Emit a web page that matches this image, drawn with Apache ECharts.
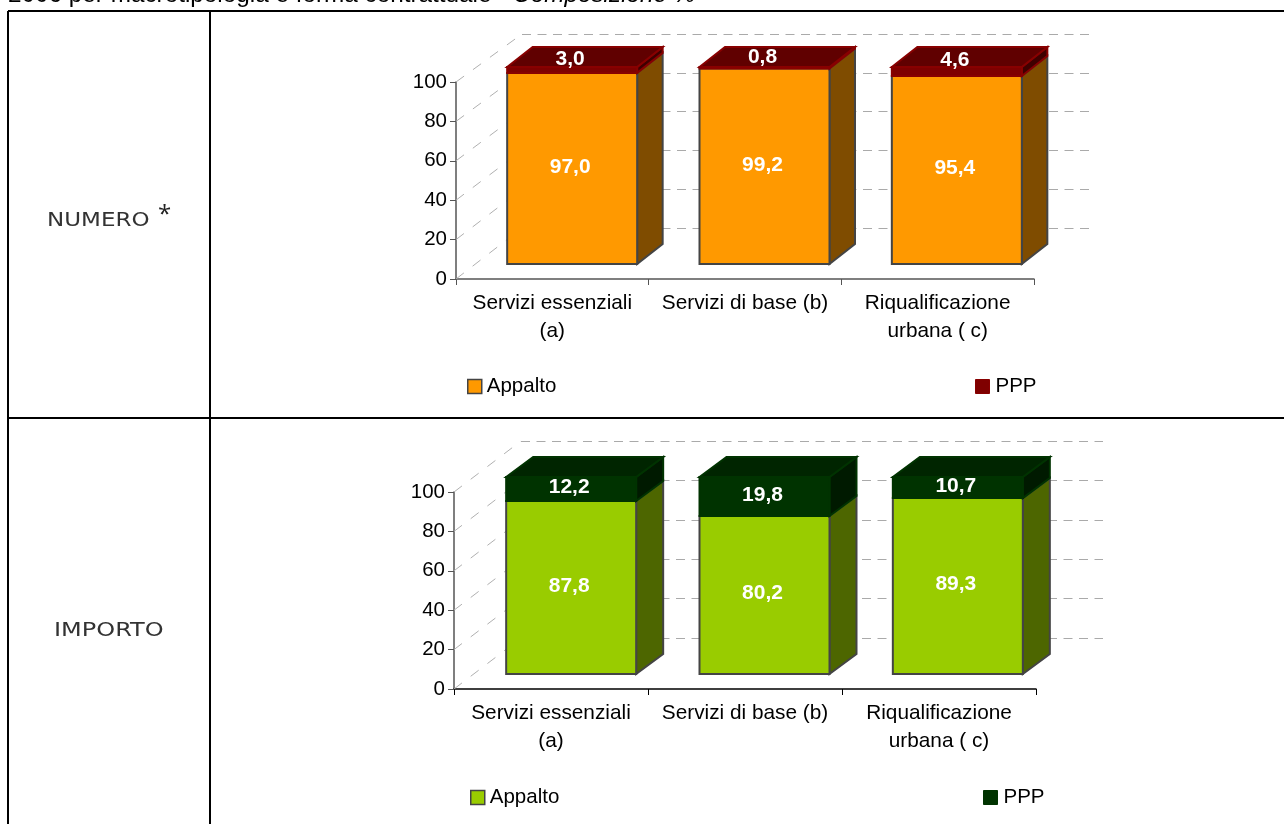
<!DOCTYPE html>
<html><head><meta charset="utf-8">
<style>html,body{margin:0;padding:0;background:#fff}#c{width:1284px;height:824px}</style>
<script src="https://cdn.jsdelivr.net/npm/echarts@6/dist/echarts.min.js"></script>
</head><body><div id="c"></div>
<script>
const categories = ['Servizi essenziali\n(a)', 'Servizi di base (b)', 'Riqualificazione\nurbana ( c)'];
const yTicks = [0, 20, 40, 60, 80, 100];
const seriesNames = ['Appalto', 'PPP'];
const appaltoNumero = [97.0, 99.2, 95.4];
const pppNumero = [3.0, 0.8, 4.6];
const appaltoImporto = [87.8, 80.2, 89.3];
const pppImporto = [12.2, 19.8, 10.7];
const titleText = '2006 per macrotipologia e forma contrattuale - ';
const titleItalic = 'Composizione %';

const FONT = '"Liberation Sans", Arial, sans-serif';
const panels = [
  { a: appaltoNumero, p: pppNumero,
    front: {left:456, top:82, width:578, height:197}, back: {left:522, top:34, width:572, height:194},
    bars: {left:476, top:67, width:577, height:197}, pppLift:-11, axisX:'#555', axisY:'#555', dx:25.5,
    legA:{left:467,top:376}, legP:{left:975,top:376},
    colA:{front:'#FF9900', side:'#7F4C00', stroke:'#444'},
    colP:{front:'#7F0000', side:'#3F0000', top:'#600000', stroke:'#880000', leg:'#7F0000'} },
  { a: appaltoImporto, p: pppImporto,
    front: {left:454, top:492, width:582, height:197}, back: {left:521, top:441, width:582, height:197},
    bars: {left:474.5, top:477, width:580, height:197}, pppLift:-1.5, axisX:'#000', axisY:'#555', dx:27,
    legA:{left:470,top:787}, legP:{left:983,top:787},
    colA:{front:'#99CC00', side:'#4D6600', stroke:'#444'},
    colP:{front:'#003300', side:'#001A00', top:'#002500', stroke:'#003300', leg:'#003300'} }
];
const BAR_W = 130, DY = -20;

function box(b){ return {left:b.left, top:b.top, width:b.width, height:b.height, containLabel:false}; }

const grid=[], xAxis=[], yAxis=[], series=[], legend=[];
panels.forEach(function(P){
  const base = grid.length, DX = P.dx;
  grid.push(box(P.front), box(P.back), box(P.bars));
  xAxis.push({gridIndex:base, type:'category', data:categories, position:'bottom',
    axisLine:{lineStyle:{color:P.axisX,width:1.5}}, axisTick:{show:true,length:6,lineStyle:{color:P.axisX}},
    axisLabel:{color:'#000',fontFamily:FONT,fontSize:20.8,lineHeight:28,margin:10,interval:0}});
  yAxis.push({gridIndex:base, type:'value', min:0, max:100, interval:20,
    axisLine:{show:true,lineStyle:{color:P.axisY,width:1.5}}, axisTick:{show:true,length:6,lineStyle:{color:P.axisY}},
    axisLabel:{color:'#000',fontFamily:FONT,fontSize:20.5,margin:9}, splitLine:{show:false}});
  xAxis.push({gridIndex:base+1, type:'category', data:categories, show:false});
  yAxis.push({gridIndex:base+1, type:'value', min:0, max:100, interval:20,
    axisLine:{show:false}, axisTick:{show:false}, axisLabel:{show:false},
    splitLine:{show:true,lineStyle:{color:'#aaaaaa',type:[9,6.5],width:1}}});
  xAxis.push({gridIndex:base+2, type:'category', data:categories, show:false});
  yAxis.push({gridIndex:base+2, type:'value', min:0, max:100, show:false});

  series.push({type:'custom', name:'wall', silent:true, xAxisIndex:base, yAxisIndex:base, clip:false, z:1,
    data: yTicks.map(function(v){return [0,v];}),
    renderItem:function(params,api){
      const v=api.value(1), y=api.coord([0,v])[1];
      const by=P.back.top+P.back.height*(1-v/100);
      return {type:'line',shape:{x1:P.front.left,y1:y,x2:P.back.left,y2:by},
        style:{stroke:'#b0b0b0',lineWidth:1,lineDash:[10,11]}};
    }});

  function barSeries(name,col,rows,lift){
    return {type:'custom', name:name, silent:true, xAxisIndex:base+2, yAxisIndex:base+2, clip:false, z:3,
      itemStyle:{color:col.front},
      encode:{x:0,y:2},
      data:rows,
      renderItem:function(params,api){
        const c=api.value(0), lo=api.value(1), hi=api.value(2);
        const pb=api.coord([c,lo]), pt=api.coord([c,hi]);
        const x0=pb[0]-BAR_W/2, x1=pb[0]+BAR_W/2, yb=pb[1], yt=pt[1];
        const kids=[];
        const st=col.stroke;
        kids.push({type:'polygon',shape:{points:[[x1,yb],[x1+DX,yb+DY],[x1+DX,yt+DY],[x1,yt]]},
          style:{fill:col.side,stroke:st,lineWidth:2}});
        if(col.top) kids.push({type:'polygon',shape:{points:[[x0,yt],[x0+DX,yt+DY],[x1+DX,yt+DY],[x1,yt]]},
          style:{fill:col.top,stroke:st,lineWidth:2}});
        kids.push({type:'rect',shape:{x:x0,y:yt,width:BAR_W,height:yb-yt},
          style:{fill:col.front,stroke:st,lineWidth:2}});
        kids.push({type:'text',z2:10,style:{text:(hi-lo).toFixed(1).replace('.',','),
          x:pb[0]-2,y:(yb+yt)/2+lift,align:'center',verticalAlign:'middle',
          fill:'#fff',font:'bold 21px '+FONT}});
        return {type:'group',children:kids};
      }};
  }
  series.push(barSeries(seriesNames[0],P.colA,P.a.map(function(v,i){return [i,0,v];}),-1.5));
  series.push(barSeries(seriesNames[1],P.colP,P.p.map(function(v,i){return [i,P.a[i],P.a[i]+v];}),P.pppLift));

  legend.push({left:P.legA.left,top:P.legA.top,selectedMode:false,itemWidth:14,itemHeight:14,itemGap:0,
    textStyle:{color:'#000',fontFamily:FONT,fontSize:20.5,padding:[0,0,0,0]},padding:0,
    data:[{name:seriesNames[0],icon:'rect',itemStyle:{color:P.colA.front,borderColor:'#444',borderWidth:1.5}}]});
  legend.push({left:P.legP.left,top:P.legP.top,selectedMode:false,itemWidth:14,itemHeight:14,itemGap:0,
    textStyle:{color:'#000',fontFamily:FONT,fontSize:20.5,padding:[0,0,0,1]},padding:0,
    data:[{name:seriesNames[1],icon:'rect',itemStyle:{color:P.colP.leg,borderColor:P.colP.stroke,borderWidth:1}}]});
});

const rules=[[8,11,1284,11],[8,11,8,824],[210,11,210,824],[8,418,1284,418]];
const graphic=rules.map(function(r){
  return {type:'line',silent:true,shape:{x1:r[0],y1:r[1],x2:r[2],y2:r[3]},style:{stroke:'#000',lineWidth:2}};
});
graphic.push({type:'text',silent:true,left:8,top:-17,style:{
  text:titleText+'{i|'+titleItalic+'}',font:'24.3px '+FONT,fill:'#000',
  rich:{i:{font:'italic 24.3px '+FONT,fill:'#000'}}}});
const labelFont='20px "DejaVu Sans", sans-serif';
graphic.push({type:'text',silent:true,x:47,y:211,scaleX:1.15,style:{text:'NUMERO',font:labelFont,fill:'#333'}});
graphic.push({type:'text',silent:true,left:158,top:203,style:{text:'*',font:'24px "Open Sans", sans-serif',fill:'#222'}});
graphic.push({type:'text',silent:true,x:54,y:621,scaleX:1.2,style:{text:'IMPORTO',font:labelFont,fill:'#333'}});

const chart=echarts.init(document.getElementById('c'));
chart.setOption({animation:false,backgroundColor:'#fff',grid,xAxis,yAxis,series,legend,graphic,tooltip:{show:false}});
</script></body></html>
